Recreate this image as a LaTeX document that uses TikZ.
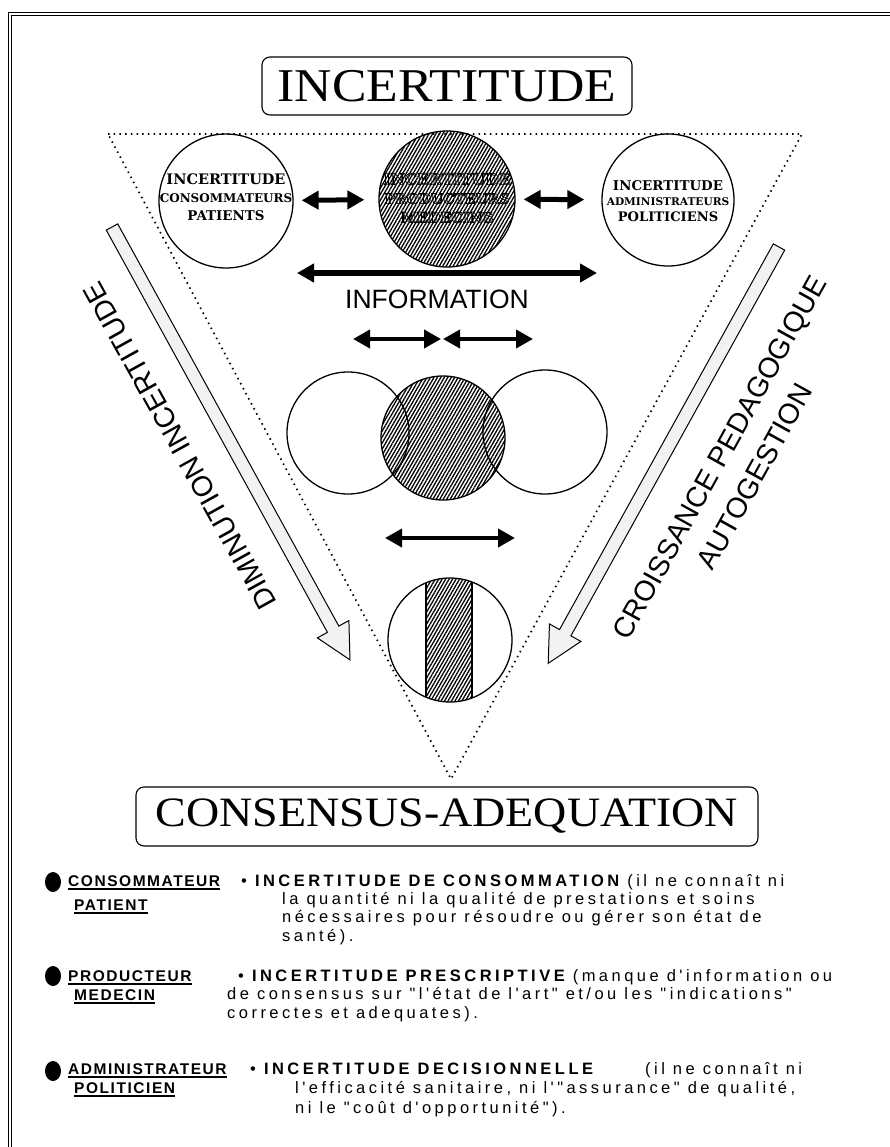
\documentclass[tikz,border=0pt]{standalone}
\usepackage{fontspec}
\usepackage{tikz}
\usetikzlibrary{arrows.meta,patterns.meta,shapes.geometric}
\newfontfamily\slabfont{DejaVu Serif}
\newfontfamily\helvfont{Liberation Sans}
\newfontfamily\titlefont[FakeStretch=1.1]{Liberation Serif}
\newfontfamily\descfont[LetterSpace=21]{Liberation Sans}
\newfontfamily\labfont[LetterSpace=10]{Liberation Sans}
\newcommand{\outl}{\special{pdf:literal direct 1 Tr 0.7 w}}

\begin{document}
\begin{tikzpicture}[x=1pt,y=-1pt,
  rond/.style={draw,circle,line width=1.3pt,inner sep=0pt},
  hach/.style={pattern={Lines[angle=60,distance=3pt,line width=1.3pt]}},
  dbl/.style={line width=5pt,{Triangle[length=17pt,width=18pt]}-{Triangle[length=17pt,width=18pt]}},
  cadre/.style={draw,rounded corners=8pt,line width=1.1pt,inner sep=0pt},
  pointille/.style={line width=1.7pt,dash pattern=on 1.5pt off 4.2pt},
  fleche/.style={draw,line width=1pt,fill=black!5,line join=miter},
  ligne/.style={anchor=base west,inner sep=0pt,font=\descfont\fontsize{16.5}{18}\selectfont},
  lab/.style={anchor=base west,inner sep=0pt,font=\labfont\bfseries\fontsize{15.5}{18}\selectfont},
  puce/.style={fill,ellipse,inner sep=0pt,minimum width=16pt,minimum height=20pt}]
\useasboundingbox (0,0) rectangle (890,1147);
\draw[double,double distance=2pt,line width=0.8pt] (890,14) -- (10,14) -- (10,1147);

\node[cadre,minimum width=370pt,minimum height=58pt,font=\titlefont\fontsize{47}{47}\selectfont] (titre) at (447,86) {INCERTITUDE};
\draw[pointille] (108,134) -- (802,134) -- (451,779) -- cycle;

\node[rond,minimum size=134pt] (cons) at (226,201) {};
\node[rond,hach,minimum size=136pt] (prod) at (447,199) {};
\node[rond,minimum size=132pt] (admin) at (668,200) {};
\node[align=center,inner sep=0pt,font=\slabfont\bfseries\fontsize{13}{18}\selectfont] (consT) at ([yshift=4pt]cons) {{\fontsize{14.5}{18}\selectfont INCERTITUDE}\\{\fontsize{12}{18}\selectfont CONSOMMATEURS}\\{\fontsize{13.4}{18}\selectfont PATIENTS}};
\node[align=center,inner sep=0pt,font=\slabfont\bfseries\fontsize{14}{19}\selectfont] (prodT) at ([yshift=1pt]prod) {\outl{\fontsize{15.5}{19}\selectfont INCERTITUDE}\\{\fontsize{14}{19}\selectfont PRODUCTEURS}\\{\fontsize{14.5}{19}\selectfont MEDECINS}};
\node[align=center,inner sep=0pt,font=\slabfont\bfseries\fontsize{13}{15.5}\selectfont] (adminT) at ([yshift=-1pt]admin) {{\fontsize{13.4}{15.5}\selectfont INCERTITUDE}\\{\fontsize{10.6}{15.5}\selectfont ADMINISTRATEURS}\\{\fontsize{13.1}{15.5}\selectfont POLITICIENS}};
\path[draw,dbl,shorten <=8pt,shorten >=14pt] (cons) -- (prod);
\path[draw,dbl,shorten <=8pt,shorten >=17pt] (prod) -- (admin);

\coordinate (infoG) at (297,273);
\coordinate (infoD) at (597,273);
\path[draw,dbl,line width=6pt] (infoG) -- (infoD);
\node[font=\helvfont\fontsize{26.5}{30}\selectfont] (info) at (437,299) {INFORMATION};

\coordinate (v1) at (353,339);
\coordinate (v2) at (441,339);
\coordinate (v3) at (443,339);
\coordinate (v4) at (533,339);
\path[draw,dbl,line width=4pt] (v1) -- (v2);
\path[draw,dbl,line width=4pt] (v3) -- (v4);
\node[rond,minimum size=122pt] (vG) at (348,433) {};
\node[rond,hach,minimum size=124pt] (vM) at (443,438) {};
\node[rond,minimum size=124pt] (vD) at (545,432) {};
\coordinate (w1) at (385,538);
\coordinate (w2) at (515,538);
\path[draw,dbl,line width=4pt] (w1) -- (w2);

\begin{scope}
\clip (450,640) circle [radius=62];
\fill[hach] (426,570) rectangle (472,710);
\draw[line width=1.2pt] (426,570) -- (426,710) (472,570) -- (472,710);
\end{scope}
\node[rond,minimum size=124pt] (fin) at (450,640) {};

\begin{scope}[shift={(112,227)},rotate=-61.2]
\draw[fleche] (0,-6.5) -- (459,-6.5) -- (459,-18) -- (494,0) -- (459,18) -- (459,6.5) -- (0,6.5) -- cycle;
\end{scope}
\begin{scope}[shift={(779,247)},rotate=-119]
\draw[fleche] (0,-6.5) -- (441,-6.5) -- (441,-18) -- (476,0) -- (441,18) -- (441,6.5) -- (0,6.5) -- cycle;
\end{scope}
\node[font=\helvfont\fontsize{28.5}{40}\selectfont,rotate=119] (dimin) at (180,446) {DIMINUTION INCERTITUDE};
\node[font=\helvfont\fontsize{28.5}{40}\selectfont,rotate=61,align=center] (crois) at (737,467) {CROISSANCE PEDAGOGIQUE\\AUTOGESTION};

\node[cadre,minimum width=622pt,minimum height=59pt,font=\titlefont\fontsize{41.8}{42}\selectfont] (fin2) at (447,816.5) {CONSENSUS-ADEQUATION};

\node[puce] (p1) at (53,882) {};
\node[lab] (l1a) at (68,886) {CONSOMMATEUR};
\node[lab] (l1b) at (74,910) {PATIENT};
\node[ligne] (t1a) at (241,886) {• {\bfseries INCERTITUDE DE CONSOMMATION} (il ne connaît ni};
\node[ligne] (t1b) at (282,904) {la quantité ni la qualité de prestations et soins};
\node[ligne] (t1c) at (282,922) {nécessaires pour résoudre ou gérer son état de};
\node[ligne] (t1d) at (282,941) {santé).};

\node[puce] (p2) at (53,976) {};
\node[lab] (l2a) at (68,981) {PRODUCTEUR};
\node[lab] (l2b) at (74,1000) {MEDECIN};
\node[ligne] (t2a) at (238,981) {• {\bfseries INCERTITUDE PRESCRIPTIVE} (manque d'information ou};
\node[ligne] (t2b) at (227,999) {de consensus sur "l'état de l'art" et/ou les "indications"};
\node[ligne] (t2c) at (227,1018) {correctes et adequates).};

\node[puce] (p3) at (53,1071) {};
\node[lab] (l3a) at (68,1074) {ADMINISTRATEUR};
\node[lab] (l3b) at (74,1093) {POLITICIEN};
\node[ligne] (t3a) at (250,1074) {• {\bfseries INCERTITUDE DECISIONNELLE}};
\node[ligne] (t3e) at (645,1074) {(il ne connaît ni};
\node[ligne] (t3b) at (295,1093) {l'efficacité sanitaire, ni l'"assurance" de qualité,};
\node[ligne] (t3c) at (295,1113) {ni le "coût d'opportunité").};

\foreach \n in {l1a,l1b,l2a,l2b,l3a,l3b}
  \draw[line width=1.2pt] ([yshift=-3pt]\n.base west) -- ([yshift=-3pt]\n.base east);
\end{tikzpicture}
\end{document}
